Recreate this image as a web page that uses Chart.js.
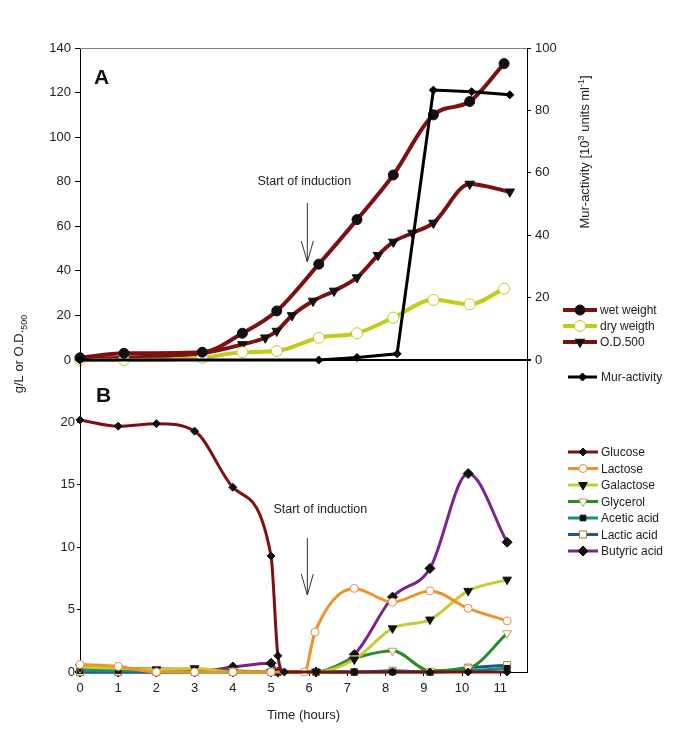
<!DOCTYPE html>
<html>
<head>
<meta charset="utf-8">
<script src="https://cdn.jsdelivr.net/npm/chart.js@4/dist/chart.umd.min.js"></script>
<style>
  body { margin: 0; background: #fff; }
  #wrap { position: relative; width: 685px; height: 729px; }
  canvas { position: absolute; left: 0; top: 0; }
</style>
</head>
<body>
<div id="wrap">
  <canvas id="chart-a" width="685" height="729"></canvas>
  <canvas id="chart-b" width="685" height="729"></canvas>
</div>
<script>
// Panel A - times (hours) and values
const tWeight = [0, 1.15, 3.2, 4.25, 5.15, 6.25, 7.25, 8.2, 9.25, 10.2, 11.1];
const wetWeight = [1, 3, 3.5, 12, 22, 43, 63, 83, 110, 116, 133];
const dryWeight = [0, 0, 1, 3.5, 4, 10, 12, 19, 27, 25, 32];
const tOD = [0, 1.15, 3.2, 4.25, 4.85, 5.15, 5.55, 6.1, 6.65, 7.25, 7.8, 8.2, 8.7, 9.25, 10.2, 11.25];
const od500 = [0.5, 1, 3, 7, 10, 13, 20, 26.5, 31, 37, 47, 53, 57, 61.5, 79, 75.5];
const tMur = [0, 6.25, 7.25, 8.3, 9.25, 10.25, 11.25];
const murActivity = [0, 0, 0.8, 2, 86.5, 86, 85];

// Panel B - times (hours) and values (g/L)
const tSugar = [0, 1, 2, 3, 4, 5, 5.18, 6.18, 7.18, 8.18, 9.16, 10.16, 11.18];
const tGlucose = [0, 1, 2, 3, 4, 5, 5.18, 5.35, 6.18, 7.18, 8.18, 9.16, 10.16, 11.18];
const glucose = [20.2, 19.7, 19.9, 19.3, 14.8, 9.3, 1.3, 0, 0, 0, 0, 0, 0, 0];
const tLactose = [0, 1, 2, 3, 4, 5, 5.87, 6.15, 7.18, 8.18, 9.16, 10.16, 11.18];
const lactose = [0.6, 0.45, 0, 0, 0, 0, 0, 3.2, 6.7, 5.6, 6.5, 5.1, 4.1];
const galactose = [0.4, 0.3, 0.2, 0.3, 0, 0, 0, 0, 1.0, 3.5, 4.2, 6.5, 7.4];
const glycerol = [0.3, 0.3, 0.25, 0.2, 0.1, 0, 0, 0, 1.1, 1.7, 0.1, 0.3, 3.1];
const aceticAcid = [0.1, 0.1, 0.1, 0.1, 0, 0, 0, 0, 0, 0, 0, 0.1, 0.3];
const lacticAcid = [0, 0, 0, 0, 0, 0, 0, 0, 0, 0.1, 0, 0.35, 0.55];
const butyricAcid = [0, 0, 0, 0, 0.4, 0.7, 0, 0, 1.4, 6.0, 8.3, 15.9, 10.4];

const inductionTime = 5.95;
const FONT = '"Liberation Sans", Arial, sans-serif';
const TXT = '#222';

Chart.defaults.font.family = FONT;
Chart.defaults.font.size = 13;
Chart.defaults.color = TXT;

const pts = (t, v) => t.map((x, i) => ({ x: x, y: v[i] }));

function series(label, t, v, color, width, marker) {
  return Object.assign({
    label: label,
    data: pts(t, v),
    borderColor: color,
    borderWidth: width,
    tension: 0.4,
    cubicInterpolationMode: 'monotone',
    clip: 10,
    pointRotation: 0,
    pointBorderWidth: 1
  }, marker);
}

function runsWidth(ctx, runs) {
  let w = 0;
  runs.forEach(r => { ctx.font = r[1] + 'px ' + FONT; w += ctx.measureText(r[0]).width; });
  return w;
}
function drawRuns(ctx, runs, x, y) {
  let cx = x;
  runs.forEach(r => {
    ctx.font = r[1] + 'px ' + FONT;
    ctx.fillText(r[0], cx, y + r[2]);
    cx += ctx.measureText(r[0]).width;
  });
}
function rotatedRuns(ctx, runs, x, y) {
  ctx.save();
  ctx.translate(x, y);
  ctx.rotate(-Math.PI / 2);
  ctx.textBaseline = 'alphabetic';
  drawRuns(ctx, runs, -runsWidth(ctx, runs) / 2, 0);
  ctx.restore();
}

function arrow(ctx, x, y1, y2) {
  ctx.save();
  ctx.strokeStyle = '#333';
  ctx.lineWidth = 1;
  ctx.beginPath();
  ctx.moveTo(x, y1); ctx.lineTo(x, y2);
  ctx.moveTo(x - 6, y2 - 21); ctx.lineTo(x, y2); ctx.lineTo(x + 6, y2 - 21);
  ctx.stroke();
  ctx.restore();
}

function legendItem(ctx, ds, x0, x1, y, tx) {
  ctx.save();
  ctx.strokeStyle = ds.borderColor;
  ctx.lineWidth = ds.borderWidth;
  ctx.beginPath(); ctx.moveTo(x0, y); ctx.lineTo(x1, y); ctx.stroke();
  ctx.fillStyle = ds.pointBackgroundColor;
  ctx.strokeStyle = ds.pointBorderColor;
  ctx.lineWidth = ds.pointBorderWidth;
  Chart.helpers.drawPoint(ctx, {
    pointStyle: ds.pointStyle, radius: ds.pointRadius,
    rotation: ds.pointRotation, borderWidth: ds.pointBorderWidth
  }, (x0 + x1) / 2, y);
  ctx.fillStyle = TXT;
  ctx.font = '12px ' + FONT;
  ctx.textBaseline = 'middle';
  ctx.fillText(ds.label, tx, y + 1);
  ctx.restore();
}

const dark = '#7d1010';

// ---------- Panel A ----------
const dsA = [
  series('Mur-activity', tMur, murActivity, '#000', 3, {
    yAxisID: 'yMur', tension: 0, cubicInterpolationMode: 'default',
    pointStyle: 'rectRot', pointRadius: 4,
    pointBackgroundColor: '#000', pointBorderColor: '#000'
  }),
  series('wet weight', tWeight, wetWeight, dark, 4, {
    yAxisID: 'y', pointStyle: 'circle', pointRadius: 5,
    pointBackgroundColor: '#111', pointBorderColor: '#111'
  }),
  series('dry weigth', tWeight, dryWeight, '#c2cc1c', 4, {
    yAxisID: 'y', pointStyle: 'circle', pointRadius: 5.5,
    pointBackgroundColor: '#fff', pointBorderColor: '#c2cc1c'
  }),
  series('O.D.500', tOD, od500, dark, 4, {
    yAxisID: 'y', pointStyle: 'triangle', pointRotation: 180, pointRadius: 5.5,
    pointBackgroundColor: '#111', pointBorderColor: '#111'
  })
];

const extrasA = {
  id: 'extrasA',
  beforeDatasetsDraw(chart) {
    const { ctx, chartArea: a } = chart;
    ctx.save();
    ctx.strokeStyle = '#808080'; ctx.lineWidth = 1;
    ctx.beginPath(); ctx.moveTo(a.left, a.top + 0.5); ctx.lineTo(a.right, a.top + 0.5); ctx.stroke();
    ctx.strokeStyle = '#000'; ctx.lineWidth = 2;
    ctx.beginPath(); ctx.moveTo(a.left, a.bottom); ctx.lineTo(a.right + 4, a.bottom); ctx.stroke();
    ctx.restore();
  },
  afterDraw(chart) {
    const { ctx } = chart;
    const xi = chart.scales.x.getPixelForValue(inductionTime);
    ctx.save();
    ctx.fillStyle = '#111';
    ctx.font = 'bold 21px ' + FONT;
    ctx.fillText('A', 94, 84);
    ctx.fillStyle = TXT;
    ctx.font = '12.5px ' + FONT;
    ctx.textAlign = 'center';
    ctx.fillText('Start of induction', xi - 3, 185);
    ctx.textAlign = 'left';
    arrow(ctx, xi, 203, 262);
    rotatedRuns(ctx, [['Mur-activity [10', 13, 0], ['3', 9, -5], [' units ml', 13, 0], ['-1', 9, -5], [']', 13, 0]], 589, 152);
    rotatedRuns(ctx, [['g/L or O.D.', 13, 0], ['500', 9, 4]], 23, 354);
    const ds = chart.data.datasets;
    legendItem(ctx, ds[1], 563, 597, 310, 600);
    legendItem(ctx, ds[2], 563, 597, 326, 600);
    legendItem(ctx, ds[3], 563, 597, 342, 600);
    legendItem(ctx, ds[0], 568, 597, 377, 601);
    ctx.restore();
  }
};

new Chart(document.getElementById('chart-a'), {
  type: 'line',
  data: { datasets: dsA },
  options: {
    responsive: false,
    animation: false,
    devicePixelRatio: 1,
    layout: { padding: { top: 48, bottom: 369, left: 0, right: 83 } },
    plugins: { legend: { display: false }, tooltip: { enabled: false } },
    scales: {
      x: { type: 'linear', min: 0, max: 11.7, display: false },
      y: {
        min: 0, max: 140,
        ticks: { stepSize: 20, padding: 4, color: TXT },
        grid: { drawOnChartArea: false, tickLength: 5, color: '#000' },
        border: { color: '#000' },
        afterFit: s => { s.width = 80; }
      },
      yMur: {
        position: 'right', min: 0, max: 100,
        ticks: { stepSize: 20, padding: 4, color: TXT },
        grid: { drawOnChartArea: false, tickLength: 4, color: '#000' },
        border: { color: '#000' },
        afterFit: s => { s.width = 75; }
      }
    }
  },
  plugins: [extrasA]
});

// ---------- Panel B ----------
const dsB = [
  series('Glucose', tGlucose, glucose, dark, 3, {
    pointStyle: 'rectRot', pointRadius: 4, pointBackgroundColor: '#111', pointBorderColor: '#111'
  }),
  series('Lactose', tLactose, lactose, '#f0922a', 3, {
    pointStyle: 'circle', pointRadius: 4, pointBackgroundColor: '#fff', pointBorderColor: '#e09040'
  }),
  series('Galactose', tSugar, galactose, '#c8cc34', 3, {
    pointStyle: 'triangle', pointRotation: 180, pointRadius: 5, pointBackgroundColor: '#111', pointBorderColor: '#111'
  }),
  series('Glycerol', tSugar, glycerol, '#2a8c2a', 3, {
    pointStyle: 'triangle', pointRotation: 180, pointRadius: 5, pointBackgroundColor: '#fff', pointBorderColor: '#c8a050'
  }),
  series('Acetic acid', tSugar, aceticAcid, '#1a8a84', 3, {
    pointStyle: 'rect', pointRadius: 4, pointBackgroundColor: '#111', pointBorderColor: '#111'
  }),
  series('Lactic acid', tSugar, lacticAcid, '#1d5a8c', 3, {
    pointStyle: 'rect', pointRadius: 5, pointBackgroundColor: '#fff', pointBorderColor: '#a08030'
  }),
  series('Butyric acid', tSugar, butyricAcid, '#7a2290', 3, {
    pointStyle: 'rectRot', pointRadius: 5, pointBackgroundColor: '#111', pointBorderColor: '#111'
  })
];

const extrasB = {
  id: 'extrasB',
  beforeDatasetsDraw(chart) {
    const { ctx, chartArea: a } = chart;
    ctx.save();
    ctx.strokeStyle = '#000'; ctx.lineWidth = 1;
    ctx.beginPath(); ctx.moveTo(a.right + 0.5, a.top); ctx.lineTo(a.right + 0.5, a.bottom); ctx.stroke();
    ctx.restore();
  },
  afterDraw(chart) {
    const { ctx } = chart;
    const xi = chart.scales.x.getPixelForValue(inductionTime);
    ctx.save();
    ctx.fillStyle = '#111';
    ctx.font = 'bold 21px ' + FONT;
    ctx.fillText('B', 96, 402);
    ctx.fillStyle = TXT;
    ctx.font = '12.5px ' + FONT;
    ctx.textAlign = 'center';
    ctx.fillText('Start of induction', xi + 13, 513);
    ctx.textAlign = 'left';
    arrow(ctx, xi, 538, 595);
    chart.data.datasets.forEach((ds, i) => legendItem(ctx, ds, 568, 598, 452 + i * 16.5, 601));
    ctx.restore();
  }
};

new Chart(document.getElementById('chart-b'), {
  type: 'line',
  data: { datasets: dsB },
  options: {
    responsive: false,
    animation: false,
    devicePixelRatio: 1,
    layout: { padding: { top: 360, bottom: 0, left: 0, right: 158 } },
    plugins: { legend: { display: false }, tooltip: { enabled: false } },
    scales: {
      x: {
        type: 'linear', min: 0, max: 11.7,
        ticks: { stepSize: 1, includeBounds: false, padding: 5, color: TXT },
        grid: { drawOnChartArea: false, tickLength: 4, color: '#000' },
        border: { color: '#000' },
        title: { display: true, text: 'Time (hours)', color: TXT, padding: { top: 4, bottom: 6 } },
        afterFit: s => { s.height = 57; }
      },
      y: {
        min: 0, max: 25,
        ticks: { stepSize: 5, padding: 2, color: TXT, callback: v => (v === 25 ? '' : v) },
        grid: { drawOnChartArea: false, tickLength: 3, color: '#000' },
        border: { color: '#000' },
        afterFit: s => { s.width = 80; }
      }
    }
  },
  plugins: [extrasB]
});
</script>
</body>
</html>
